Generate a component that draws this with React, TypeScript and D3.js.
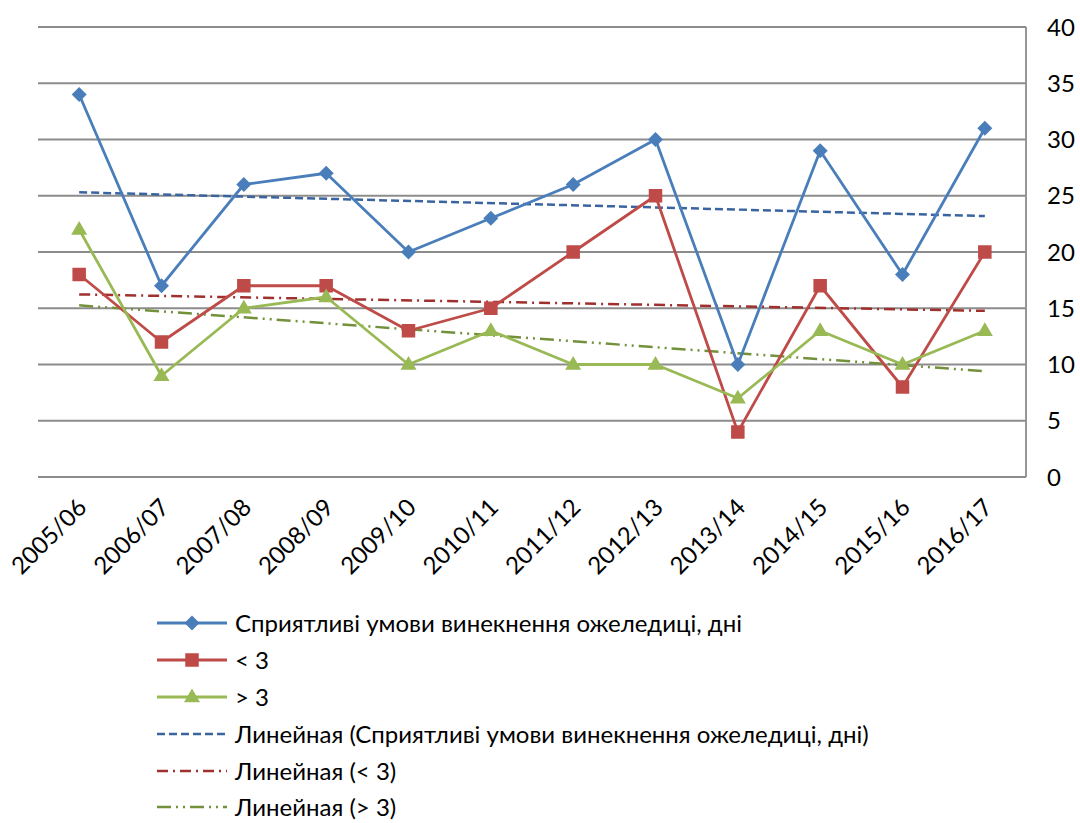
import React from "react";
import * as d3 from "d3";

const categories = ["2005/06","2006/07","2007/08","2008/09","2009/10","2010/11","2011/12","2012/13","2013/14","2014/15","2015/16","2016/17"];
const favorable = [34,17,26,27,20,23,26,30,10,29,18,31];
const lessThan3 = [18,12,17,17,13,15,20,25,4,17,8,20];
const moreThan3 = [22,9,15,16,10,13,10,10,7,13,10,13];
const yTicks = [0,5,10,15,20,25,30,35,40];
const legendLabels = [
  "Сприятливі умови винекнення ожеледиці, дні",
  "< 3",
  "> 3",
  "Линейная (Сприятливі умови винекнення ожеледиці, дні)",
  "Линейная (< 3)",
  "Линейная (> 3)",
];

const W = 1080, H = 823;
const FONT = "Lato, 'Open Sans', sans-serif";
const FS = 24;

function trend(vals: number[]) {
  const n = vals.length;
  const xs = d3.range(n);
  const mx = d3.mean(xs)!, my = d3.mean(vals)!;
  let sxy = 0, sxx = 0;
  xs.forEach((x, i) => { sxy += (x - mx) * (vals[i] - my); sxx += (x - mx) ** 2; });
  const b = sxy / sxx, a = my - b * mx;
  return [a, a + b * (n - 1)];
}

const COLORS = { blue: "#4A7EBB", red: "#BE4B48", green: "#98B954" };
const TREND = { blue: "#3A64A0", red: "#A0302E", green: "#72913A" };

function Marker({ type, x, y, color }: { type: string; x: number; y: number; color: string }) {
  if (type === "diamond") {
    const r = 7.5;
    return <path d={`M${x},${y - r}L${x + r},${y}L${x},${y + r}L${x - r},${y}Z`} fill={color} />;
  }
  if (type === "square") {
    const s = 13.5;
    return <rect x={x - s / 2} y={y - s / 2} width={s} height={s} fill={color} />;
  }
  const s = 16;
  const h = s * 0.866;
  return <path d={`M${x},${y - h * 0.62}L${x + s / 2},${y + h * 0.38}L${x - s / 2},${y + h * 0.38}Z`} fill={color} />;
}

export default function App() {
  const left = 38, right = 1026, top = 27, bottom = 477;
  const x = d3.scalePoint<string>().domain(categories).range([left, right]).padding(0.5);
  const y = d3.scaleLinear().domain([0, 40]).range([bottom, top]);
  const line = d3.line<number>().x((_, i) => x(categories[i])!).y((d) => y(d));

  const series = [
    { vals: favorable, color: COLORS.blue, marker: "diamond" },
    { vals: lessThan3, color: COLORS.red, marker: "square" },
    { vals: moreThan3, color: COLORS.green, marker: "triangle" },
  ];
  const trends = [
    { vals: favorable, color: TREND.blue, dash: "8 4", w: 2.5 },
    { vals: lessThan3, color: TREND.red, dash: "11 5 2 5", w: 2.5 },
    { vals: moreThan3, color: TREND.green, dash: "14 5 2 5 2 5", w: 2.5 },
  ];
  const x0 = x(categories[0])!, x1 = x(categories[categories.length - 1])!;

  const legendY = [623, 660, 697, 734, 771, 807];

  return (
    <svg width={W} height={H} style={{ position: "absolute", left: 0, top: 0 }} fontFamily={FONT}>
      <rect width={W} height={H} fill="#fff" />
      {yTicks.filter((t) => t > 0).map((t) => (
        <line key={t} x1={left} x2={right} y1={y(t)} y2={y(t)} stroke="#8C8C8C" strokeWidth={1.8} />
      ))}
      <line x1={left} x2={right} y1={bottom} y2={bottom} stroke="#8C8C8C" strokeWidth={1.8} />
      <line x1={right} x2={right} y1={top} y2={bottom} stroke="#8C8C8C" strokeWidth={1.8} />
      {yTicks.map((t) => (
        <text key={t} x={1047} y={y(t)} dy="0.36em" fontSize={FS} fill="#000">{t}</text>
      ))}
      {categories.map((c) => (
        <text key={c} transform={`translate(${x(c)! + 9},${509}) rotate(-45)`} textAnchor="end" fontSize={FS} fill="#000">{c}</text>
      ))}
      {trends.map((t, i) => {
        const [a, b] = trend(t.vals);
        return <line key={i} x1={x0} x2={x1} y1={y(a)} y2={y(b)} stroke={t.color} strokeWidth={t.w} strokeDasharray={t.dash} />;
      })}
      {series.map((s, i) => (
        <g key={i}>
          <path d={line(s.vals)!} fill="none" stroke={s.color} strokeWidth={2.8} strokeLinejoin="round" />
          {s.vals.map((v, j) => (
            <Marker key={j} type={s.marker} x={x(categories[j])!} y={y(v)} color={s.color} />
          ))}
        </g>
      ))}
      {legendLabels.map((lab, i) => {
        const ly = legendY[i];
        const isSeries = i < 3;
        const s = isSeries ? series[i] : null;
        const t = !isSeries ? trends[i - 3] : null;
        return (
          <g key={i}>
            {s && <line x1={157} x2={227} y1={ly} y2={ly} stroke={s.color} strokeWidth={2.8} />}
            {s && <Marker type={s.marker} x={192} y={ly} color={s.color} />}
            {t && <line x1={157} x2={227} y1={ly} y2={ly} stroke={t.color} strokeWidth={t.w} strokeDasharray={t.dash} />}
            <text x={235} y={ly} dy="0.36em" fontSize={FS} fill="#000">{lab}</text>
          </g>
        );
      })}
    </svg>
  );
}
